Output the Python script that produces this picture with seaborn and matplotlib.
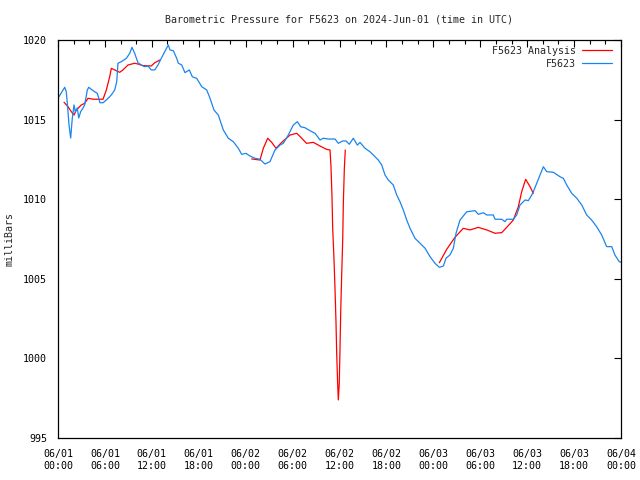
import numpy as np
import pandas as pd
import matplotlib
matplotlib.use("Agg")
import matplotlib.pyplot as plt
import seaborn as sns
from matplotlib.ticker import MultipleLocator
from matplotlib.lines import Line2D

title = "Barometric Pressure for F5623 on 2024-Jun-01 (time in UTC)"
ylabel = "milliBars"
xtick_hours = [0, 6, 12, 18, 24, 30, 36, 42, 48, 54, 60, 66, 72]
xtick_labels = ["06/01\n00:00", "06/01\n06:00", "06/01\n12:00", "06/01\n18:00",
                "06/02\n00:00", "06/02\n06:00", "06/02\n12:00", "06/02\n18:00",
                "06/03\n00:00", "06/03\n06:00", "06/03\n12:00", "06/03\n18:00",
                "06/04\n00:00"]
ytick_values = [995, 1000, 1005, 1010, 1015, 1020]

# Station observations (hours since 06/01 00:00 UTC, mb)
obs_hours = [0.00, 0.51, 0.86, 1.06, 1.19, 1.41, 1.62, 1.83, 2.05, 2.21, 2.47, 2.65, 2.90,
             3.20, 3.41, 3.75, 3.93, 4.26, 4.69, 5.03, 5.37, 5.76, 6.18, 6.82, 7.25, 7.51,
             7.67, 8.10, 8.74, 9.17, 9.46, 9.81, 10.23, 10.65, 11.09, 11.51, 11.93, 12.37,
             12.79, 13.21, 13.65, 14.11, 14.32, 14.75, 15.18, 15.39, 15.82, 16.24, 16.79,
             17.18, 17.74, 18.38, 19.02, 19.44, 19.95, 20.50, 21.14, 21.78, 22.42, 23.06,
             23.49, 24.04, 24.56, 25.19, 25.83, 26.47, 27.11, 27.75, 28.39, 28.81, 29.45,
             30.09, 30.61, 31.04, 31.59, 32.23, 32.87, 33.51, 33.93, 34.57, 35.43, 35.85,
             36.41, 36.83, 37.25, 37.77, 38.28, 38.62, 39.26, 39.90, 40.32, 40.96, 41.40,
             41.82, 42.24, 42.88, 43.32, 43.74, 44.16, 44.60, 45.02, 45.66, 46.30, 46.94,
             47.58, 48.22, 48.77, 49.28, 49.62, 50.13, 50.56, 50.90, 51.41, 52.27, 53.33,
             53.75, 54.39, 54.83, 55.67, 55.89, 56.75, 57.17, 57.38, 58.23, 58.66, 59.09,
             59.73, 60.15, 60.58, 60.79, 61.22, 61.64, 62.07, 62.50, 63.35, 64.20, 64.63,
             65.06, 65.70, 66.34, 66.98, 67.61, 68.25, 68.89, 69.53, 70.17, 70.81, 71.23,
             71.78, 72.00]
obs_mb = [1016.34, 1016.75, 1017.03, 1016.75, 1016.04, 1014.66, 1013.84, 1015.10, 1015.92,
          1015.50, 1015.73, 1015.10, 1015.50, 1015.73, 1015.92, 1016.86, 1017.03, 1016.90,
          1016.75, 1016.65, 1016.06, 1016.06, 1016.23, 1016.55, 1016.86, 1017.38, 1018.54,
          1018.64, 1018.85, 1019.16, 1019.54, 1019.16, 1018.57, 1018.43, 1018.32, 1018.37,
          1018.12, 1018.12, 1018.43, 1018.85, 1019.27, 1019.69, 1019.37, 1019.33, 1018.85,
          1018.54, 1018.43, 1017.95, 1018.12, 1017.69, 1017.59, 1017.07, 1016.86, 1016.34,
          1015.60, 1015.29, 1014.35, 1013.83, 1013.61, 1013.20, 1012.82, 1012.88, 1012.71,
          1012.57, 1012.51, 1012.21, 1012.36, 1013.09, 1013.40, 1013.51, 1014.03, 1014.66,
          1014.87, 1014.55, 1014.49, 1014.30, 1014.14, 1013.72, 1013.83, 1013.78, 1013.78,
          1013.51, 1013.66, 1013.66, 1013.45, 1013.83, 1013.40, 1013.57, 1013.20, 1012.98,
          1012.78, 1012.46, 1012.15, 1011.52, 1011.21, 1010.89, 1010.26, 1009.84, 1009.32,
          1008.69, 1008.17, 1007.54, 1007.23, 1006.92, 1006.39, 1005.97, 1005.72, 1005.80,
          1006.29, 1006.50, 1006.92, 1007.86, 1008.69, 1009.21, 1009.28, 1009.05, 1009.15,
          1009.01, 1009.01, 1008.74, 1008.74, 1008.59, 1008.74, 1008.74, 1009.01, 1009.64,
          1009.95, 1009.91, 1010.26, 1010.47, 1011.00, 1011.52, 1012.04, 1011.73, 1011.69,
          1011.41, 1011.31, 1010.89, 1010.37, 1010.06, 1009.64, 1009.01, 1008.69, 1008.27,
          1007.75, 1007.02, 1007.02, 1006.49, 1006.07, 1006.05]

# Analysis series, three separate segments
ana1_hours = [0.77, 1.28, 1.70, 2.05, 2.34, 2.98, 3.41, 3.84, 4.48, 5.76, 6.18, 6.61, 6.82,
              7.46, 7.89, 8.31, 8.95, 9.81, 10.23, 10.87, 11.93, 12.37, 13.01]
ana1_mb = [1016.09, 1015.81, 1015.50, 1015.29, 1015.60, 1015.92, 1016.02, 1016.34, 1016.28,
           1016.28, 1016.86, 1017.69, 1018.22, 1018.07, 1017.97, 1018.12, 1018.43, 1018.54,
           1018.49, 1018.39, 1018.37, 1018.57, 1018.74]
ana2_hours = [24.77, 25.83, 26.26, 26.82, 27.33, 27.88, 28.61, 29.67, 30.53, 30.95, 31.78,
              32.65, 33.51, 34.36, 34.79, 34.91, 35.04, 35.13, 35.30, 35.43, 35.55, 35.64,
              35.77, 35.85, 35.97, 36.07, 36.16, 36.28, 36.41, 36.49, 36.62, 36.74]
ana2_mb = [1012.53, 1012.46, 1013.20, 1013.83, 1013.57, 1013.20, 1013.57, 1014.03, 1014.14,
           1013.94, 1013.51, 1013.57, 1013.34, 1013.13, 1013.09, 1012.04, 1010.16, 1008.17,
           1006.18, 1004.30, 1002.31, 1000.32, 998.33, 997.39, 998.44, 1000.73, 1003.04,
           1005.24, 1007.44, 1009.74, 1011.94, 1013.09]
ana3_hours = [48.77, 49.71, 50.77, 51.83, 52.69, 53.75, 54.83, 55.89, 56.75, 57.38, 58.23,
              58.87, 59.30, 59.81, 60.36, 60.79]
ana3_mb = [1006.01, 1006.85, 1007.61, 1008.17, 1008.07, 1008.23, 1008.07, 1007.86, 1007.90,
           1008.23, 1008.69, 1009.53, 1010.47, 1011.25, 1010.79, 1010.37]

RED = "#ff0000"
BLUE = "#1a84f0"

sns.set_theme(style="white")
plt.rcParams["font.family"] = ["DejaVu Sans Mono"]
plt.rcParams["font.size"] = 7.2

ana_df = pd.concat([
    pd.DataFrame({"hours": ana1_hours, "mb": ana1_mb, "seg": 1}),
    pd.DataFrame({"hours": ana2_hours, "mb": ana2_mb, "seg": 2}),
    pd.DataFrame({"hours": ana3_hours, "mb": ana3_mb, "seg": 3}),
], ignore_index=True)
obs_df = pd.DataFrame({"hours": obs_hours, "mb": obs_mb})

fig = plt.figure(figsize=(6.4, 4.8), dpi=100)
ax = fig.add_axes([58 / 640, 1 - 438 / 480, (621 - 58) / 640, (438 - 40) / 480])

sns.lineplot(data=ana_df, x="hours", y="mb", units="seg", estimator=None,
             color=RED, lw=0.9, ax=ax, sort=False)
sns.lineplot(data=obs_df, x="hours", y="mb", color=BLUE, lw=0.9, ax=ax, sort=False)

handles = [Line2D([], [], color=RED, lw=0.9), Line2D([], [], color=BLUE, lw=0.9)]
ax.legend(handles, ["F5623 Analysis", "F5623"], loc="upper right",
          bbox_to_anchor=(0.995, 1.0), frameon=False, markerfirst=False,
          fontsize=7.2, handlelength=3.0, handletextpad=0.6, labelspacing=0.3,
          borderaxespad=0.2)

ax.set_xlim(0, 72)
ax.set_ylim(995, 1020)
ax.set_xticks(xtick_hours)
ax.set_xticklabels(xtick_labels)
ax.set_yticks(ytick_values)
ax.set_yticklabels([str(v) for v in ytick_values])
ax.xaxis.set_minor_locator(MultipleLocator(2))
ax.tick_params(axis="both", which="both", direction="in", top=True, right=True,
               colors="black", labelsize=7.2, width=0.8)
ax.tick_params(axis="both", which="major", length=5, pad=8)
ax.tick_params(axis="x", which="minor", length=3)
ax.set_xlabel("")
ax.set_ylabel(ylabel, fontsize=7.2)
ax.yaxis.set_label_coords((15 - 58) / 563, 0.5)
for s in ax.spines.values():
    s.set_color("black")
    s.set_linewidth(0.9)
ax.grid(False)

fig.text(339 / 640, 1 - 19 / 480, title, ha="center", va="center", fontsize=7.2)

fig.savefig("out.png", dpi=100)
